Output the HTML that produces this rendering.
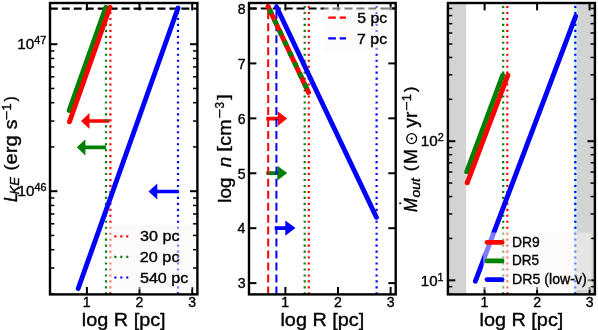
<!DOCTYPE html>
<html><head><meta charset="utf-8"><style>html,body{margin:0;padding:0;background:#fff;}svg{display:block;will-change:transform;}</style></head>
<body>
<svg width="598" height="330" viewBox="0 0 598 330">
<defs>
<clipPath id="c0"><rect x="50.0" y="3.0" width="147.4" height="291.4"/></clipPath>
<clipPath id="c1"><rect x="249.0" y="3.0" width="146.7" height="291.4"/></clipPath>
<clipPath id="c2"><rect x="447.9" y="3.0" width="147.0" height="291.4"/></clipPath>
</defs>
<rect width="598" height="330" fill="#fff"/>
<polygon points="109.50,119.15 89.50,119.15 89.50,113.00 81.00,121.00 89.50,129.00 89.50,122.85 109.50,122.85" fill="#ff0000"/>
<polygon points="106.00,145.45 85.40,145.45 85.40,139.20 76.80,147.30 85.40,155.40 85.40,149.15 106.00,149.15" fill="#008000"/>
<polygon points="178.70,189.65 157.30,189.65 157.30,183.40 148.50,191.50 157.30,199.60 157.30,193.35 178.70,193.35" fill="#0000ff"/>
<g clip-path="url(#c0)"><line x1="49.8" y1="8.7" x2="199.4" y2="8.7" stroke="#000" stroke-width="2.2" stroke-dasharray="8 3.96"/></g>
<g clip-path="url(#c0)"><line x1="110.4" y1="294.4" x2="110.4" y2="1.0" stroke="#ff0000" stroke-width="2.2" stroke-dasharray="2.1 3.865"/></g>
<g clip-path="url(#c0)"><line x1="106.0" y1="294.4" x2="106.0" y2="1.0" stroke="#008000" stroke-width="2.2" stroke-dasharray="2.1 3.865"/></g>
<g clip-path="url(#c0)"><line x1="178.0" y1="294.4" x2="178.0" y2="1.0" stroke="#0000ff" stroke-width="2.2" stroke-dasharray="2.1 3.865"/></g>
<g clip-path="url(#c0)" stroke-linecap="round" fill="none">
<line x1="69.20" y1="110.40" x2="105.80" y2="7.30" stroke="#008000" stroke-width="4.9" />
<line x1="69.50" y1="121.80" x2="110.00" y2="7.30" stroke="#ff0000" stroke-width="4.9" />
<line x1="78.20" y1="288.50" x2="178.00" y2="8.00" stroke="#0000ff" stroke-width="4.9" />
</g>
<polygon points="266.30,116.75 277.70,116.75 277.70,111.20 287.20,118.60 277.70,126.00 277.70,120.45 266.30,120.45" fill="#ff0000"/>
<polygon points="266.30,171.25 277.30,171.25 277.30,165.80 287.20,173.10 277.30,180.40 277.30,174.95 266.30,174.95" fill="#008000"/>
<polygon points="274.70,226.25 285.30,226.25 285.30,220.40 295.50,228.10 285.30,235.80 285.30,229.95 274.70,229.95" fill="#0000ff"/>
<g clip-path="url(#c1)"><line x1="248.8" y1="8.5" x2="397.7" y2="8.5" stroke="#000" stroke-width="2.2" stroke-dasharray="8 3.96"/></g>
<g clip-path="url(#c1)"><line x1="268.2" y1="294.4" x2="268.2" y2="1.0" stroke="#ff0000" stroke-width="2.0" stroke-dasharray="8 3.96"/></g>
<g clip-path="url(#c1)"><line x1="276.4" y1="294.4" x2="276.4" y2="1.0" stroke="#0000ff" stroke-width="2.0" stroke-dasharray="8 3.96"/></g>
<g clip-path="url(#c1)"><line x1="308.8" y1="294.4" x2="308.8" y2="1.0" stroke="#ff0000" stroke-width="2.2" stroke-dasharray="2.1 3.865"/></g>
<g clip-path="url(#c1)"><line x1="304.7" y1="294.4" x2="304.7" y2="1.0" stroke="#008000" stroke-width="2.2" stroke-dasharray="2.1 3.865"/></g>
<g clip-path="url(#c1)"><line x1="376.6" y1="294.4" x2="376.6" y2="1.0" stroke="#0000ff" stroke-width="2.2" stroke-dasharray="2.1 3.865"/></g>
<g clip-path="url(#c1)" stroke-linecap="round" fill="none">
<line x1="268.10" y1="6.50" x2="308.50" y2="92.40" stroke="#ff0000" stroke-width="4.9" />
</g>
<g clip-path="url(#c1)" fill="none">
<line x1="268.10" y1="6.50" x2="308.10" y2="91.50" stroke="#008000" stroke-width="4.9" stroke-dasharray="5.4 6.36" stroke-dashoffset="8.89"/>
</g>
<g clip-path="url(#c1)" stroke-linecap="round" fill="none">
<line x1="276.60" y1="7.00" x2="376.40" y2="217.30" stroke="#0000ff" stroke-width="4.9" />
</g>
<rect x="447.9" y="3.0" width="18.400000000000034" height="291.4" fill="#d3d3d3"/>
<rect x="576.4" y="3.0" width="18.5" height="291.4" fill="#d3d3d3"/>
<rect x="574.5" y="3.0" width="1.9" height="291.4" fill="#b0f8f2"/>
<rect x="466.4" y="3.0" width="1.2" height="291.4" fill="#fffdf3"/>
<g clip-path="url(#c2)"><line x1="507.3" y1="294.4" x2="507.3" y2="1.0" stroke="#ff0000" stroke-width="2.2" stroke-dasharray="2.1 3.865"/></g>
<g clip-path="url(#c2)"><line x1="503.2" y1="294.4" x2="503.2" y2="1.0" stroke="#008000" stroke-width="2.2" stroke-dasharray="2.1 3.865"/></g>
<g clip-path="url(#c2)"><line x1="575.3" y1="294.4" x2="575.3" y2="1.0" stroke="#0000ff" stroke-width="2.2" stroke-dasharray="2.1 3.865"/></g>
<g clip-path="url(#c2)" stroke-linecap="round" fill="none">
<line x1="466.70" y1="171.80" x2="502.70" y2="75.20" stroke="#008000" stroke-width="4.9" />
<line x1="467.20" y1="182.80" x2="507.90" y2="75.20" stroke="#ff0000" stroke-width="4.9" />
<line x1="475.40" y1="281.20" x2="575.60" y2="16.40" stroke="#0000ff" stroke-width="4.9" />
</g>
<line x1="86.90" y1="294.40" x2="86.90" y2="287.00" stroke="#000" stroke-width="2.0" />
<line x1="86.90" y1="3.00" x2="86.90" y2="10.40" stroke="#000" stroke-width="2.0" />
<line x1="139.50" y1="294.40" x2="139.50" y2="287.00" stroke="#000" stroke-width="2.0" />
<line x1="139.50" y1="3.00" x2="139.50" y2="10.40" stroke="#000" stroke-width="2.0" />
<line x1="192.20" y1="294.40" x2="192.20" y2="287.00" stroke="#000" stroke-width="2.0" />
<line x1="192.20" y1="3.00" x2="192.20" y2="10.40" stroke="#000" stroke-width="2.0" />
<line x1="50.00" y1="293.95" x2="54.40" y2="293.95" stroke="#000" stroke-width="1.5" />
<line x1="197.40" y1="293.95" x2="193.00" y2="293.95" stroke="#000" stroke-width="1.5" />
<line x1="50.00" y1="268.06" x2="54.40" y2="268.06" stroke="#000" stroke-width="1.5" />
<line x1="197.40" y1="268.06" x2="193.00" y2="268.06" stroke="#000" stroke-width="1.5" />
<line x1="50.00" y1="249.70" x2="54.40" y2="249.70" stroke="#000" stroke-width="1.5" />
<line x1="197.40" y1="249.70" x2="193.00" y2="249.70" stroke="#000" stroke-width="1.5" />
<line x1="50.00" y1="235.45" x2="54.40" y2="235.45" stroke="#000" stroke-width="1.5" />
<line x1="197.40" y1="235.45" x2="193.00" y2="235.45" stroke="#000" stroke-width="1.5" />
<line x1="50.00" y1="223.81" x2="54.40" y2="223.81" stroke="#000" stroke-width="1.5" />
<line x1="197.40" y1="223.81" x2="193.00" y2="223.81" stroke="#000" stroke-width="1.5" />
<line x1="50.00" y1="213.97" x2="54.40" y2="213.97" stroke="#000" stroke-width="1.5" />
<line x1="197.40" y1="213.97" x2="193.00" y2="213.97" stroke="#000" stroke-width="1.5" />
<line x1="50.00" y1="205.45" x2="54.40" y2="205.45" stroke="#000" stroke-width="1.5" />
<line x1="197.40" y1="205.45" x2="193.00" y2="205.45" stroke="#000" stroke-width="1.5" />
<line x1="50.00" y1="197.93" x2="54.40" y2="197.93" stroke="#000" stroke-width="1.5" />
<line x1="197.40" y1="197.93" x2="193.00" y2="197.93" stroke="#000" stroke-width="1.5" />
<line x1="50.00" y1="191.20" x2="57.40" y2="191.20" stroke="#000" stroke-width="2.0" />
<line x1="197.40" y1="191.20" x2="190.00" y2="191.20" stroke="#000" stroke-width="2.0" />
<line x1="50.00" y1="146.95" x2="54.40" y2="146.95" stroke="#000" stroke-width="1.5" />
<line x1="197.40" y1="146.95" x2="193.00" y2="146.95" stroke="#000" stroke-width="1.5" />
<line x1="50.00" y1="121.06" x2="54.40" y2="121.06" stroke="#000" stroke-width="1.5" />
<line x1="197.40" y1="121.06" x2="193.00" y2="121.06" stroke="#000" stroke-width="1.5" />
<line x1="50.00" y1="102.70" x2="54.40" y2="102.70" stroke="#000" stroke-width="1.5" />
<line x1="197.40" y1="102.70" x2="193.00" y2="102.70" stroke="#000" stroke-width="1.5" />
<line x1="50.00" y1="88.45" x2="54.40" y2="88.45" stroke="#000" stroke-width="1.5" />
<line x1="197.40" y1="88.45" x2="193.00" y2="88.45" stroke="#000" stroke-width="1.5" />
<line x1="50.00" y1="76.81" x2="54.40" y2="76.81" stroke="#000" stroke-width="1.5" />
<line x1="197.40" y1="76.81" x2="193.00" y2="76.81" stroke="#000" stroke-width="1.5" />
<line x1="50.00" y1="66.97" x2="54.40" y2="66.97" stroke="#000" stroke-width="1.5" />
<line x1="197.40" y1="66.97" x2="193.00" y2="66.97" stroke="#000" stroke-width="1.5" />
<line x1="50.00" y1="58.45" x2="54.40" y2="58.45" stroke="#000" stroke-width="1.5" />
<line x1="197.40" y1="58.45" x2="193.00" y2="58.45" stroke="#000" stroke-width="1.5" />
<line x1="50.00" y1="50.93" x2="54.40" y2="50.93" stroke="#000" stroke-width="1.5" />
<line x1="197.40" y1="50.93" x2="193.00" y2="50.93" stroke="#000" stroke-width="1.5" />
<line x1="50.00" y1="44.20" x2="57.40" y2="44.20" stroke="#000" stroke-width="2.0" />
<line x1="197.40" y1="44.20" x2="190.00" y2="44.20" stroke="#000" stroke-width="2.0" />
<line x1="285.40" y1="294.40" x2="285.40" y2="287.00" stroke="#000" stroke-width="2.0" />
<line x1="285.40" y1="3.00" x2="285.40" y2="10.40" stroke="#000" stroke-width="2.0" />
<line x1="338.00" y1="294.40" x2="338.00" y2="287.00" stroke="#000" stroke-width="2.0" />
<line x1="338.00" y1="3.00" x2="338.00" y2="10.40" stroke="#000" stroke-width="2.0" />
<line x1="390.60" y1="294.40" x2="390.60" y2="287.00" stroke="#000" stroke-width="2.0" />
<line x1="390.60" y1="3.00" x2="390.60" y2="10.40" stroke="#000" stroke-width="2.0" />
<line x1="249.00" y1="8.47" x2="256.40" y2="8.47" stroke="#000" stroke-width="2.0" />
<line x1="395.70" y1="8.47" x2="388.30" y2="8.47" stroke="#000" stroke-width="2.0" />
<line x1="249.00" y1="63.40" x2="256.40" y2="63.40" stroke="#000" stroke-width="2.0" />
<line x1="395.70" y1="63.40" x2="388.30" y2="63.40" stroke="#000" stroke-width="2.0" />
<line x1="249.00" y1="118.33" x2="256.40" y2="118.33" stroke="#000" stroke-width="2.0" />
<line x1="395.70" y1="118.33" x2="388.30" y2="118.33" stroke="#000" stroke-width="2.0" />
<line x1="249.00" y1="173.26" x2="256.40" y2="173.26" stroke="#000" stroke-width="2.0" />
<line x1="395.70" y1="173.26" x2="388.30" y2="173.26" stroke="#000" stroke-width="2.0" />
<line x1="249.00" y1="228.19" x2="256.40" y2="228.19" stroke="#000" stroke-width="2.0" />
<line x1="395.70" y1="228.19" x2="388.30" y2="228.19" stroke="#000" stroke-width="2.0" />
<line x1="249.00" y1="283.12" x2="256.40" y2="283.12" stroke="#000" stroke-width="2.0" />
<line x1="395.70" y1="283.12" x2="388.30" y2="283.12" stroke="#000" stroke-width="2.0" />
<line x1="484.60" y1="294.40" x2="484.60" y2="287.00" stroke="#000" stroke-width="2.0" />
<line x1="484.60" y1="3.00" x2="484.60" y2="10.40" stroke="#000" stroke-width="2.0" />
<line x1="537.10" y1="294.40" x2="537.10" y2="287.00" stroke="#000" stroke-width="2.0" />
<line x1="537.10" y1="3.00" x2="537.10" y2="10.40" stroke="#000" stroke-width="2.0" />
<line x1="589.60" y1="294.40" x2="589.60" y2="287.00" stroke="#000" stroke-width="2.0" />
<line x1="589.60" y1="3.00" x2="589.60" y2="10.40" stroke="#000" stroke-width="2.0" />
<line x1="447.90" y1="293.78" x2="452.30" y2="293.78" stroke="#000" stroke-width="1.5" />
<line x1="594.90" y1="293.78" x2="590.50" y2="293.78" stroke="#000" stroke-width="1.5" />
<line x1="447.90" y1="286.66" x2="452.30" y2="286.66" stroke="#000" stroke-width="1.5" />
<line x1="594.90" y1="286.66" x2="590.50" y2="286.66" stroke="#000" stroke-width="1.5" />
<line x1="447.90" y1="280.30" x2="455.30" y2="280.30" stroke="#000" stroke-width="2.0" />
<line x1="594.90" y1="280.30" x2="587.50" y2="280.30" stroke="#000" stroke-width="2.0" />
<line x1="447.90" y1="238.43" x2="452.30" y2="238.43" stroke="#000" stroke-width="1.5" />
<line x1="594.90" y1="238.43" x2="590.50" y2="238.43" stroke="#000" stroke-width="1.5" />
<line x1="447.90" y1="213.93" x2="452.30" y2="213.93" stroke="#000" stroke-width="1.5" />
<line x1="594.90" y1="213.93" x2="590.50" y2="213.93" stroke="#000" stroke-width="1.5" />
<line x1="447.90" y1="196.55" x2="452.30" y2="196.55" stroke="#000" stroke-width="1.5" />
<line x1="594.90" y1="196.55" x2="590.50" y2="196.55" stroke="#000" stroke-width="1.5" />
<line x1="447.90" y1="183.07" x2="452.30" y2="183.07" stroke="#000" stroke-width="1.5" />
<line x1="594.90" y1="183.07" x2="590.50" y2="183.07" stroke="#000" stroke-width="1.5" />
<line x1="447.90" y1="172.06" x2="452.30" y2="172.06" stroke="#000" stroke-width="1.5" />
<line x1="594.90" y1="172.06" x2="590.50" y2="172.06" stroke="#000" stroke-width="1.5" />
<line x1="447.90" y1="162.75" x2="452.30" y2="162.75" stroke="#000" stroke-width="1.5" />
<line x1="594.90" y1="162.75" x2="590.50" y2="162.75" stroke="#000" stroke-width="1.5" />
<line x1="447.90" y1="154.68" x2="452.30" y2="154.68" stroke="#000" stroke-width="1.5" />
<line x1="594.90" y1="154.68" x2="590.50" y2="154.68" stroke="#000" stroke-width="1.5" />
<line x1="447.90" y1="147.56" x2="452.30" y2="147.56" stroke="#000" stroke-width="1.5" />
<line x1="594.90" y1="147.56" x2="590.50" y2="147.56" stroke="#000" stroke-width="1.5" />
<line x1="447.90" y1="141.20" x2="455.30" y2="141.20" stroke="#000" stroke-width="2.0" />
<line x1="594.90" y1="141.20" x2="587.50" y2="141.20" stroke="#000" stroke-width="2.0" />
<line x1="447.90" y1="99.33" x2="452.30" y2="99.33" stroke="#000" stroke-width="1.5" />
<line x1="594.90" y1="99.33" x2="590.50" y2="99.33" stroke="#000" stroke-width="1.5" />
<line x1="447.90" y1="74.83" x2="452.30" y2="74.83" stroke="#000" stroke-width="1.5" />
<line x1="594.90" y1="74.83" x2="590.50" y2="74.83" stroke="#000" stroke-width="1.5" />
<line x1="447.90" y1="57.45" x2="452.30" y2="57.45" stroke="#000" stroke-width="1.5" />
<line x1="594.90" y1="57.45" x2="590.50" y2="57.45" stroke="#000" stroke-width="1.5" />
<line x1="447.90" y1="43.97" x2="452.30" y2="43.97" stroke="#000" stroke-width="1.5" />
<line x1="594.90" y1="43.97" x2="590.50" y2="43.97" stroke="#000" stroke-width="1.5" />
<line x1="447.90" y1="32.96" x2="452.30" y2="32.96" stroke="#000" stroke-width="1.5" />
<line x1="594.90" y1="32.96" x2="590.50" y2="32.96" stroke="#000" stroke-width="1.5" />
<line x1="447.90" y1="23.65" x2="452.30" y2="23.65" stroke="#000" stroke-width="1.5" />
<line x1="594.90" y1="23.65" x2="590.50" y2="23.65" stroke="#000" stroke-width="1.5" />
<line x1="447.90" y1="15.58" x2="452.30" y2="15.58" stroke="#000" stroke-width="1.5" />
<line x1="594.90" y1="15.58" x2="590.50" y2="15.58" stroke="#000" stroke-width="1.5" />
<line x1="447.90" y1="8.46" x2="452.30" y2="8.46" stroke="#000" stroke-width="1.5" />
<line x1="594.90" y1="8.46" x2="590.50" y2="8.46" stroke="#000" stroke-width="1.5" />
<rect x="108.0" y="224.7" width="84.69999999999999" height="64.90000000000003" rx="2.8" fill="#faf7f4" fill-opacity="0.5"/>
<line x1="114.30" y1="236.30" x2="129.50" y2="236.30" stroke="#ff0000" stroke-width="2.2" stroke-dasharray="2.1 3.865"/>
<line x1="114.30" y1="256.80" x2="129.50" y2="256.80" stroke="#008000" stroke-width="2.2" stroke-dasharray="2.1 3.865"/>
<line x1="114.30" y1="277.50" x2="129.50" y2="277.50" stroke="#0000ff" stroke-width="2.2" stroke-dasharray="2.1 3.865"/>
<rect x="323.6" y="6.6" width="68.59999999999997" height="44.4" rx="2.8" fill="#faf7f4" fill-opacity="0.5"/>
<line x1="328.30" y1="17.60" x2="346.00" y2="17.60" stroke="#ff0000" stroke-width="2.3" stroke-dasharray="7.6 3.8"/>
<line x1="328.30" y1="38.30" x2="346.00" y2="38.30" stroke="#0000ff" stroke-width="2.3" stroke-dasharray="7.6 3.8"/>
<rect x="483.2" y="232.4" width="108.30000000000001" height="57.599999999999994" rx="2.8" fill="#faf7f4" fill-opacity="0.5"/>
<line x1="487.00" y1="242.30" x2="502.10" y2="242.30" stroke="#ff0000" stroke-width="4.7" stroke-linecap="round"/>
<line x1="487.00" y1="260.90" x2="502.10" y2="260.90" stroke="#008000" stroke-width="4.7" stroke-linecap="round"/>
<line x1="487.00" y1="279.60" x2="502.10" y2="279.60" stroke="#0000ff" stroke-width="4.7" stroke-linecap="round"/>
<rect x="50.0" y="3.0" width="147.40" height="291.40" fill="none" stroke="#000" stroke-width="2.4" stroke-linejoin="miter"/>
<rect x="249.0" y="3.0" width="146.70" height="291.40" fill="none" stroke="#000" stroke-width="2.4" stroke-linejoin="miter"/>
<rect x="447.9" y="3.0" width="147.00" height="291.40" fill="none" stroke="#000" stroke-width="2.4" stroke-linejoin="miter"/>
<g font-family='"Liberation Sans", sans-serif' fill="#000" style="font-kerning:none">
<text transform="translate(139.98,241.30) scale(1.1383,1.0000)" stroke="#000" stroke-width="0.35"><tspan font-size="14.20">30 pc</tspan></text>
<text transform="translate(139.78,262.00) scale(1.1442,1.0000)" stroke="#000" stroke-width="0.35"><tspan font-size="14.20">20 pc</tspan></text>
<text transform="translate(139.95,282.70) scale(1.1345,1.0000)" stroke="#000" stroke-width="0.35"><tspan font-size="14.20">540 pc</tspan></text>
<text transform="translate(357.27,23.20) scale(1.1121,1.0000)" stroke="#000" stroke-width="0.35"><tspan font-size="14.20">5 pc</tspan></text>
<text transform="translate(357.09,43.90) scale(1.1190,1.0000)" stroke="#000" stroke-width="0.35"><tspan font-size="14.20">7 pc</tspan></text>
<text transform="translate(511.96,246.70) scale(0.9887,1.0000)" stroke="#000" stroke-width="0.35"><tspan font-size="14.00">DR9</tspan></text>
<text transform="translate(511.99,265.00) scale(0.9669,1.0000)" stroke="#000" stroke-width="0.35"><tspan font-size="14.00">DR5</tspan></text>
<text transform="translate(512.04,284.10) scale(1.0115,1.0000)" stroke="#000" stroke-width="0.35"><tspan font-size="14.00">DR5 (low-v)</tspan></text>
<text transform="translate(82.79,307.10) scale(1.0000,1.0000)" stroke="#000" stroke-width="0.35"><tspan font-size="14.10">1</tspan></text>
<text transform="translate(135.58,307.10) scale(1.0000,1.0000)" stroke="#000" stroke-width="0.35"><tspan font-size="14.10">2</tspan></text>
<text transform="translate(188.32,307.10) scale(1.0000,1.0000)" stroke="#000" stroke-width="0.35"><tspan font-size="14.10">3</tspan></text>
<text transform="translate(81.81,326.00) scale(1.1343,1.0000)" stroke="#000" stroke-width="0.35"><tspan font-size="17.50">log R [pc]</tspan></text>
<text transform="translate(281.29,307.10) scale(1.0000,1.0000)" stroke="#000" stroke-width="0.35"><tspan font-size="14.10">1</tspan></text>
<text transform="translate(334.08,307.10) scale(1.0000,1.0000)" stroke="#000" stroke-width="0.35"><tspan font-size="14.10">2</tspan></text>
<text transform="translate(386.72,307.10) scale(1.0000,1.0000)" stroke="#000" stroke-width="0.35"><tspan font-size="14.10">3</tspan></text>
<text transform="translate(280.46,326.00) scale(1.1343,1.0000)" stroke="#000" stroke-width="0.35"><tspan font-size="17.50">log R [pc]</tspan></text>
<text transform="translate(480.49,307.10) scale(1.0000,1.0000)" stroke="#000" stroke-width="0.35"><tspan font-size="14.10">1</tspan></text>
<text transform="translate(533.18,307.10) scale(1.0000,1.0000)" stroke="#000" stroke-width="0.35"><tspan font-size="14.10">2</tspan></text>
<text transform="translate(585.72,307.10) scale(1.0000,1.0000)" stroke="#000" stroke-width="0.35"><tspan font-size="14.10">3</tspan></text>
<text transform="translate(479.51,326.00) scale(1.1343,1.0000)" stroke="#000" stroke-width="0.35"><tspan font-size="17.50">log R [pc]</tspan></text>
<text transform="translate(17.34,49.00) scale(1.0821,1.0000)" stroke="#000" stroke-width="0.35"><tspan font-size="14.10">10</tspan><tspan font-size="10.00" dy="-5.0">47</tspan></text>
<text transform="translate(17.54,196.00) scale(1.0793,1.0000)" stroke="#000" stroke-width="0.35"><tspan font-size="14.10">10</tspan><tspan font-size="10.00" dy="-5.0">46</tspan></text>
<text transform="translate(420.84,146.30) scale(1.0830,1.0000)" stroke="#000" stroke-width="0.35"><tspan font-size="14.10">10</tspan><tspan font-size="10.00" dy="-5.0">2</tspan></text>
<text transform="translate(420.75,285.70) scale(1.0720,1.0000)" stroke="#000" stroke-width="0.35"><tspan font-size="14.10">10</tspan><tspan font-size="10.00" dy="-5.0">1</tspan></text>
<text transform="translate(237.77,13.77) scale(1.0000,1.0000)" stroke="#000" stroke-width="0.35"><tspan font-size="14.10">8</tspan></text>
<text transform="translate(237.87,68.70) scale(1.0000,1.0000)" stroke="#000" stroke-width="0.35"><tspan font-size="14.10">7</tspan></text>
<text transform="translate(237.78,123.63) scale(1.0000,1.0000)" stroke="#000" stroke-width="0.35"><tspan font-size="14.10">6</tspan></text>
<text transform="translate(237.75,178.56) scale(1.0000,1.0000)" stroke="#000" stroke-width="0.35"><tspan font-size="14.10">5</tspan></text>
<text transform="translate(237.57,233.49) scale(1.0000,1.0000)" stroke="#000" stroke-width="0.35"><tspan font-size="14.10">4</tspan></text>
<text transform="translate(237.78,288.42) scale(1.0000,1.0000)" stroke="#000" stroke-width="0.35"><tspan font-size="14.10">3</tspan></text>
<text transform="translate(17.20,201.91) rotate(-90) scale(0.9930,1.07)" stroke="#000" stroke-width="0.35"><tspan font-size="16.80" font-style="italic">L</tspan></text>
<text transform="translate(19.20,194.40) rotate(-90) scale(1.1144,1.07)" stroke="#000" stroke-width="0.35"><tspan font-size="11.76" font-style="italic">KE</tspan></text>
<text transform="translate(17.20,164.56) rotate(-90) scale(1.2053,1.07)" stroke="#000" stroke-width="0.35"><tspan font-size="16.80">erg</tspan></text>
<text transform="translate(17.20,129.34) rotate(-90) scale(1.1467,1.07)" stroke="#000" stroke-width="0.35"><tspan font-size="16.80">s</tspan></text>
<text transform="translate(10.70,120.29) rotate(-90) scale(1.3652,1.07)" stroke="#000" stroke-width="0.35"><tspan font-size="11.76">−</tspan></text>
<text transform="translate(10.70,110.47) rotate(-90) scale(1.0847,1.07)" stroke="#000" stroke-width="0.35"><tspan font-size="11.76">1</tspan></text>
<text transform="translate(15.69,170.50) rotate(-90) scale(1.0552,0.9520)" stroke="#000" stroke-width="0.35"><tspan font-size="16.80">(</tspan></text>
<text transform="translate(15.69,101.39) rotate(-90) scale(0.9205,0.9520)" stroke="#000" stroke-width="0.35"><tspan font-size="16.80">)</tspan></text>
<text transform="translate(230.50,202.67) rotate(-90) scale(1.1186,1.07)" stroke="#000" stroke-width="0.35"><tspan font-size="16.80">log</tspan></text>
<text transform="translate(230.50,167.21) rotate(-90) scale(1.1203,1.07)" stroke="#000" stroke-width="0.35"><tspan font-size="16.80" font-style="italic">n</tspan></text>
<text transform="translate(230.50,145.64) rotate(-90) scale(1.1763,1.07)" stroke="#000" stroke-width="0.35"><tspan font-size="16.80">cm</tspan></text>
<text transform="translate(224.00,118.58) rotate(-90) scale(1.3477,1.07)" stroke="#000" stroke-width="0.35"><tspan font-size="11.76">−</tspan></text>
<text transform="translate(224.00,108.44) rotate(-90) scale(0.9864,1.07)" stroke="#000" stroke-width="0.35"><tspan font-size="11.76">3</tspan></text>
<text transform="translate(229.11,151.87) rotate(-90) scale(1.2280,0.9451)" stroke="#000" stroke-width="0.35"><tspan font-size="16.80">[</tspan></text>
<text transform="translate(229.33,99.87) rotate(-90) scale(1.2580,0.9387)" stroke="#000" stroke-width="0.35"><tspan font-size="16.80">]</tspan></text>
<text transform="translate(417.30,212.11) rotate(-90) scale(0.9942,1.07)" stroke="#000" stroke-width="0.35"><tspan font-size="16.80" font-style="italic">M</tspan></text>
<text transform="translate(420.30,197.46) rotate(-90) scale(1.1850,1.07)" stroke="#000" stroke-width="0.35"><tspan font-size="11.76" font-style="italic">out</tspan></text>
<text transform="translate(417.30,163.98) rotate(-90) scale(1.0767,1.07)" stroke="#000" stroke-width="0.35"><tspan font-size="16.80">M</tspan></text>
<text transform="translate(417.30,127.65) rotate(-90) scale(1.1481,1.07)" stroke="#000" stroke-width="0.35"><tspan font-size="16.80">yr</tspan></text>
<text transform="translate(410.80,110.90) rotate(-90) scale(1.3827,1.07)" stroke="#000" stroke-width="0.35"><tspan font-size="11.76">−</tspan></text>
<text transform="translate(410.80,101.37) rotate(-90) scale(1.0847,1.07)" stroke="#000" stroke-width="0.35"><tspan font-size="11.76">1</tspan></text>
<text transform="translate(415.73,171.42) rotate(-90) scale(1.0776,0.9392)" stroke="#000" stroke-width="0.35"><tspan font-size="16.80">(</tspan></text>
<text transform="translate(415.98,92.00) rotate(-90) scale(0.9654,0.9839)" stroke="#000" stroke-width="0.35"><tspan font-size="16.80">)</tspan></text>
<circle cx="400.2" cy="203.3" r="1.05" fill="#000"/>
<circle cx="411.65" cy="138.6" r="4.95" fill="none" stroke="#000" stroke-width="1.3"/><circle cx="411.65" cy="138.6" r="1.15" fill="#000"/>
</g>
</svg>
</body></html>
